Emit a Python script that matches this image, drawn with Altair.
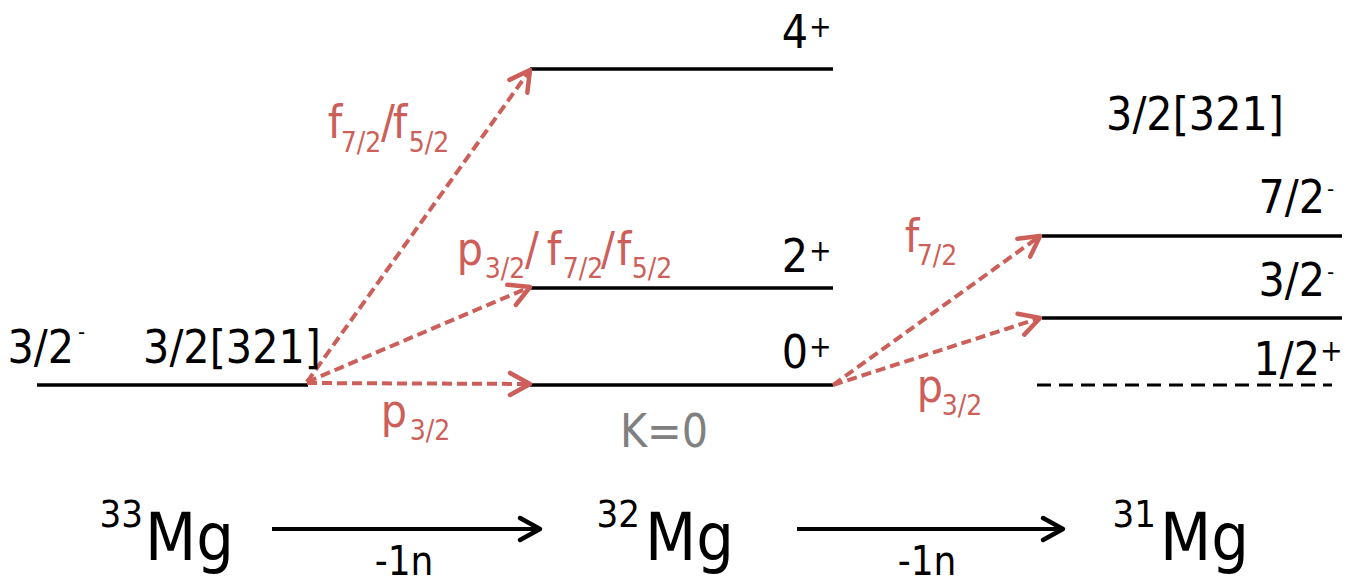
import math
import pandas as pd
import altair as alt

FONT = "DejaVu Sans Condensed"
BLACK = "#000000"
RED = "#cd5f5a"
GREY = "#808080"

# ---- level lines (x start, x end, level height in page pixels) ----
level_x0 = [37, 530, 530, 530, 1042, 1042]
level_x1 = [308, 833, 833, 833, 1345, 1345]
level_y = [385, 385, 288, 69, 236, 318]
dashed_level_x0 = [1037]
dashed_level_x1 = [1332]
dashed_level_y = [385]

# ---- transition arrows (red, dashed) ----
tr_x0 = [307, 307, 307, 833, 833]
tr_y0 = [382, 382, 383, 385, 385]
tr_x1 = [530, 530, 530, 1040, 1040]
tr_y1 = [70, 287, 384, 236, 318]

# ---- reaction arrows (black) ----
rx_x0 = [272, 797]
rx_y0 = [529, 529]
rx_x1 = [540, 1063]
rx_y1 = [529, 529]

# ---- labels: text, anchor x, baseline y, size, colour, alignment ----
label_text = ["3/2", "-", "3/2[321]", "4", "+", "2", "+", "0", "+",
              "3/2[321]", "7/2", "-", "3/2", "-", "1/2", "+",
              "K=0", "33", "Mg", "32", "Mg", "31", "Mg", "-1n", "-1n",
              "f", "7/2", "/", "f", "5/2",
              "p", "3/2", "/", "f", "7/2", "/", "f", "5/2",
              "p", "3/2", "f", "7/2", "p", "3/2"]
label_x = [74, 78, 232, 808, 809, 808, 809, 808, 809,
           1195, 1325, 1327, 1325, 1327, 1320, 1320,
           664, 143, 145, 640, 645, 1156, 1160, 404, 927,
           335, 361, 388, 400, 429,
           470, 505, 532, 554, 583, 608, 624, 652,
           394, 430, 912, 937, 930, 962]
label_y = [363, 339, 363, 48, 37, 272, 261, 368, 357,
           130, 213, 196, 296, 279, 375, 361,
           447, 527, 560, 527, 560, 527, 560, 575, 575,
           138, 152, 138, 138, 152,
           265, 278, 265, 265, 278, 265, 265, 278,
           427, 440, 252, 265, 402, 415]
label_size = [46, 22, 46, 46, 30, 46, 30, 46, 30,
              46, 46, 22, 46, 22, 46, 30,
              46, 38, 66, 38, 66, 38, 66, 40, 40,
              46, 28, 46, 46, 28,
              46, 28, 46, 46, 28, 46, 46, 28,
              46, 28, 46, 28, 46, 28]
label_color = [BLACK] * 16 + [GREY] + [BLACK] * 8 + [RED] * 19
label_align = ["right", "left", "center", "right", "left", "right", "left", "right", "left",
               "center", "right", "left", "right", "left", "right", "left",
               "center", "right", "left", "right", "left", "right", "left", "center", "center"] \
              + ["center"] * 19


def heads(x0, y0, x1, y1, color):
    ang = [math.degrees(math.atan2(b1 - b0, a1 - a0)) % 360
           for a0, b0, a1, b1 in zip(x0, y0, x1, y1)]
    return pd.DataFrame({"x": x1, "y": y1, "angle": ang, "color": color})


xs = alt.Scale(domain=[8, 1342], nice=False, zero=False)
ys = alt.Scale(domain=[8, 579], nice=False, zero=False, reverse=True)

levels = pd.DataFrame({"x": level_x0, "x2": level_x1, "y": level_y})
dlevels = pd.DataFrame({"x": dashed_level_x0, "x2": dashed_level_x1, "y": dashed_level_y})
trans = pd.DataFrame({"x": tr_x0, "y": tr_y0, "x2": tr_x1, "y2": tr_y1})
react = pd.DataFrame({"x": rx_x0, "y": rx_y0, "x2": rx_x1, "y2": rx_y1})
labels = pd.DataFrame({"t": label_text, "x": label_x, "y": label_y,
                       "s": label_size, "c": label_color, "a": label_align})
head_df = pd.concat([heads(tr_x0, tr_y0, tr_x1, tr_y1, RED),
                     heads(rx_x0, rx_y0, rx_x1, rx_y1, BLACK)], ignore_index=True)

X = alt.X("x:Q", scale=xs, axis=None)
Y = alt.Y("y:Q", scale=ys, axis=None)

lvl = alt.Chart(levels).mark_rule(color=BLACK, strokeWidth=3.5).encode(x=X, x2="x2:Q", y=Y)
dlvl = alt.Chart(dlevels).mark_rule(color=BLACK, strokeWidth=3, strokeDash=[14, 8]).encode(
    x=X, x2="x2:Q", y=Y)
tr = alt.Chart(trans).mark_rule(color=RED, strokeWidth=4, strokeDash=[10, 5]).encode(
    x=X, x2="x2:Q", y=Y, y2="y2:Q")
rx = alt.Chart(react).mark_rule(color=BLACK, strokeWidth=4).encode(
    x=X, x2="x2:Q", y=Y, y2="y2:Q")
hd = alt.Chart(head_df).mark_point(
    shape="M -1 -0.55 L 0 0 L -1 0.55", filled=False, size=1600,
    strokeWidth=4.5, opacity=1, strokeCap="round", strokeJoin="round").encode(
    x=X, y=Y,
    angle=alt.Angle("angle:Q", scale=None),
    stroke=alt.Stroke("color:N", scale=None))

text_layers = []
for a in ["left", "center", "right"]:
    text_layers.append(
        alt.Chart(labels).transform_filter(alt.datum.a == a)
        .mark_text(align=a, baseline="alphabetic", font=FONT)
        .encode(x=X, y=Y, text="t:N",
                size=alt.Size("s:Q", scale=None),
                color=alt.Color("c:N", scale=None)))

chart = alt.layer(lvl, dlvl, tr, rx, hd, *text_layers).properties(
    width=1334, height=571, padding=0,
    autosize=alt.AutoSizeParams(type="none"),
    background="white"
).configure_view(stroke=None)

chart.save("out.html", embed_options={"renderer": "svg", "actions": False})
